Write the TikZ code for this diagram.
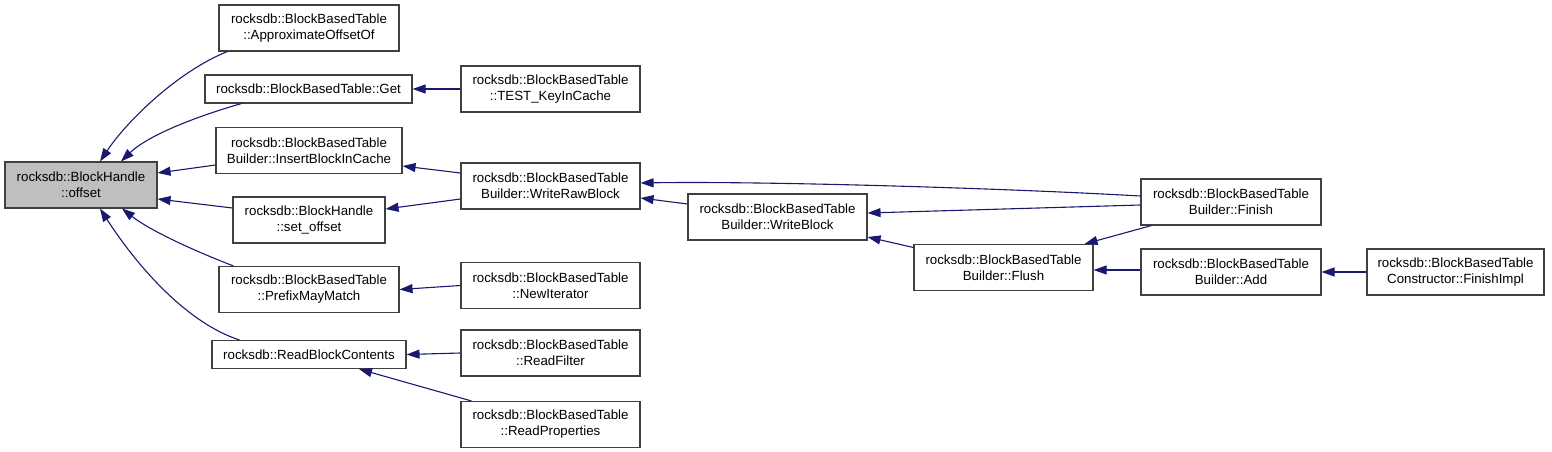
\documentclass[tikz,border=0pt]{standalone}
\usepackage{fontspec}
\setmainfont{Liberation Sans}
\usetikzlibrary{arrows.meta}
\definecolor{Edge}{HTML}{191970}
\definecolor{Frame}{HTML}{404040}
\definecolor{Focus}{HTML}{BFBFBF}
\tikzset{
  fn/.style={draw=Frame,fill=white,line width=1.1pt,minimum height=46pt,align=center,inner sep=0pt,font=\fontsize{13.3}{16}\selectfont},
  fnline/.style={fn,minimum height=28pt},
  focus/.style={fn,fill=Focus},
  call/.style={-{Triangle[length=13pt,width=9pt]},draw=Edge,line width=1.1pt}
}
\begin{document}
\begin{tikzpicture}[x=1pt,y=-1pt]
  \useasboundingbox (0,0) rectangle (1552,452);
  \node[focus,minimum width=152pt] (offset) at (81,185) {rocksdb::BlockHandle\\::offset};
  \node[fn,minimum width=180pt] (approx) at (309,28) {rocksdb::BlockBasedTable\\::ApproximateOffsetOf};
  \node[fnline,minimum width=207pt] (get) at (308.5,89) {rocksdb::BlockBasedTable::Get};
  \node[fn,minimum width=186pt] (insert) at (309,150.5) {rocksdb::BlockBasedTable\\Builder::InsertBlockInCache};
  \node[fn,minimum width=152pt] (setoff) at (309,220) {rocksdb::BlockHandle\\::set\_offset};
  \node[fn,minimum width=180pt] (prefix) at (309,289.5) {rocksdb::BlockBasedTable\\::PrefixMayMatch};
  \node[fnline,minimum width=194pt] (readblock) at (309,354.5) {rocksdb::ReadBlockContents};
  \node[fn,minimum width=179pt] (testkey) at (550.5,89) {rocksdb::BlockBasedTable\\::TEST\_KeyInCache};
  \node[fn,minimum width=179pt] (writeraw) at (550.5,186) {rocksdb::BlockBasedTable\\Builder::WriteRawBlock};
  \node[fn,minimum width=179pt] (newiter) at (550.5,285.5) {rocksdb::BlockBasedTable\\::NewIterator};
  \node[fn,minimum width=179pt] (readfilter) at (550.5,353) {rocksdb::BlockBasedTable\\::ReadFilter};
  \node[fn,minimum width=179pt] (readprop) at (550.5,424.5) {rocksdb::BlockBasedTable\\::ReadProperties};
  \node[fn,minimum width=179pt] (writeblock) at (777.5,217) {rocksdb::BlockBasedTable\\Builder::WriteBlock};
  \node[fn,minimum width=179pt] (flush) at (1003.5,267.5) {rocksdb::BlockBasedTable\\Builder::Flush};
  \node[fn,minimum width=180pt] (finish) at (1231,202) {rocksdb::BlockBasedTable\\Builder::Finish};
  \node[fn,minimum width=180pt] (add) at (1231,272) {rocksdb::BlockBasedTable\\Builder::Add};
  \node[fn,minimum width=177pt] (finishimpl) at (1455.5,272) {rocksdb::BlockBasedTable\\Constructor::FinishImpl};

  \draw[call] ([xshift=9pt]approx.south west) .. controls +(-48,19) and +(28,-42) .. ([xshift=19pt]offset.north);
  \draw[call] ([xshift=37pt]get.south west) .. controls +(-42,12) and +(28,-27) .. ([xshift=40pt]offset.north);
  \draw[call] ([yshift=-14.5pt]insert.west) -- ([yshift=12pt]offset.east);
  \draw[call] ([yshift=12pt]setoff.west) -- ([yshift=-14pt]offset.east);
  \draw[call] ([xshift=15pt]prefix.north west) .. controls +(-39,-15) and +(28,22) .. ([xshift=41pt]offset.south);
  \draw[call] ([xshift=28pt]readblock.north west) .. controls +(-50,-16) and +(40,62) .. ([xshift=19pt]offset.south);
  \draw[call] (testkey) -- (get);
  \draw[call] ([yshift=13pt]writeraw.west) -- ([yshift=-15.5pt]insert.east);
  \draw[call] ([yshift=-13pt]writeraw.west) -- ([yshift=11pt]setoff.east);
  \draw[call] (newiter.west) -- (prefix.east);
  \draw[call] (readfilter.west) -- (readblock.east);
  \draw[call] ([xshift=11pt]readprop.north west) -- ([xshift=50pt]readblock.south);
  \draw[call] ([yshift=6pt]finish.west) .. controls +(-141,-8) and +(120,-2) .. ([yshift=3pt]writeraw.east);
  \draw[call] ([yshift=13pt]writeblock.west) -- ([yshift=-12pt]writeraw.east);
  \draw[call] ([yshift=-3pt]finish.west) -- ([yshift=4pt]writeblock.east);
  \draw[call] ([yshift=20pt]flush.west) -- ([yshift=-20pt]writeblock.east);
  \draw[call] ([xshift=11pt]finish.south west) -- ([xshift=-9pt]flush.north east);
  \draw[call] ([yshift=2pt]add.west) -- ([yshift=-2.5pt]flush.east);
  \draw[call] (finishimpl) -- (add);
\end{tikzpicture}
\end{document}
